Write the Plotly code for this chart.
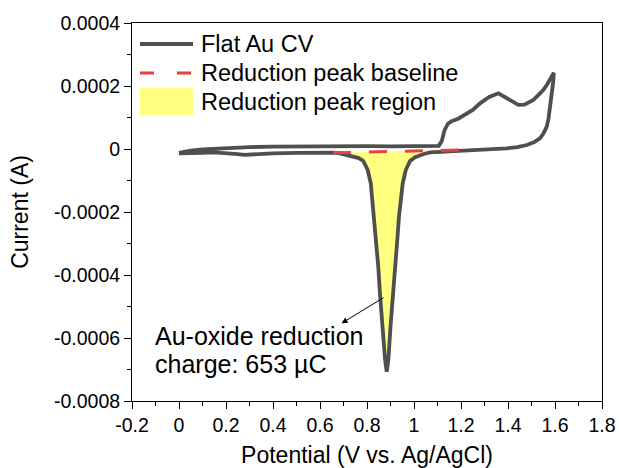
import numpy as np
import plotly.graph_objects as go

# ---------------- data ----------------
# Forward (anodic) sweep 0 -> 1.6 V, then reverse (cathodic) sweep 1.6 -> 0 V
forward_potential = [0.00, 0.05, 0.10, 0.20, 0.30, 0.40, 0.50, 0.60, 0.70, 0.80, 0.90,
                     1.00, 1.08, 1.105, 1.118, 1.13, 1.145, 1.16, 1.19, 1.21, 1.25,
                     1.281, 1.32, 1.359, 1.394, 1.42, 1.444, 1.47, 1.494, 1.508,
                     1.53, 1.55, 1.565, 1.58, 1.595]
forward_current = [-0.0000125, -0.000005, -0.000001, 0.000003, 0.000006, 0.0000075,
                   0.0000085, 0.0000095, 0.0000095, 0.000009, 0.0000085, 0.000008,
                   0.000008, 0.00001, 0.000025, 0.00006, 0.000081, 0.000088, 0.000097,
                   0.000106, 0.000124, 0.000145, 0.000165, 0.000177, 0.000162,
                   0.000148, 0.00014, 0.000141, 0.00015, 0.000156, 0.000172,
                   0.000187, 0.000203, 0.00022, 0.000242]

reverse_potential = [1.592, 1.586, 1.579, 1.572, 1.565, 1.55, 1.536, 1.51, 1.48, 1.44,
                     1.394, 1.323, 1.25, 1.18, 1.10, 1.07, 1.045, 1.026, 1.005, 0.983,
                     0.965, 0.952, 0.943, 0.936, 0.931, 0.925, 0.919, 0.909, 0.900,
                     0.891, 0.884, 0.877, 0.865, 0.855, 0.848, 0.842, 0.837, 0.830,
                     0.824, 0.816, 0.803, 0.784, 0.765, 0.742, 0.715, 0.685, 0.657,
                     0.60, 0.50, 0.40, 0.35, 0.316, 0.28, 0.25, 0.20, 0.15, 0.10,
                     0.05, 0.00]
reverse_current = [0.00021, 0.000177, 0.000124, 0.000095, 0.000071, 0.000048, 0.000034,
                   0.000021, 0.0000127, 0.000006, 0.000002, -0.000001, -0.000002,
                   -0.000004, -0.000008, -0.000011, -0.000015, -0.000019, -0.000026,
                   -0.000038, -0.0000667, -0.000109, -0.000162, -0.000215,
                   -0.000268, -0.00032, -0.000374, -0.000458, -0.000564, -0.00067,
                   -0.000707, -0.00067, -0.000564, -0.000458, -0.000374, -0.00032,
                   -0.000268, -0.000215, -0.000162, -0.000109, -0.0000667,
                   -0.000038, -0.000029, -0.0000244, -0.000017, -0.0000137,
                   -0.0000117, -0.0000115, -0.000012, -0.000014, -0.000017,
                   -0.000019, -0.0000185, -0.000016, -0.0000125, -0.000011,
                   -0.0000125, -0.000014, -0.0000135]

baseline_potential = [0.655, 1.21]
baseline_current = [-0.0000120, -0.000003]

x_tick_vals = [-0.2, 0, 0.2, 0.4, 0.6, 0.8, 1.0, 1.2, 1.4, 1.6, 1.8]
x_tick_text = ["-0.2", "0", "0.2", "0.4", "0.6", "0.8", "1", "1.2", "1.4", "1.6", "1.8"]
y_tick_vals = [0.0004, 0.0002, 0, -0.0002, -0.0004, -0.0006, -0.0008]
y_tick_text = ["0.0004", "0.0002", "0", "-0.0002", "-0.0004", "-0.0006", "-0.0008"]

legend_labels = ["Flat Au CV", "Reduction peak baseline", "Reduction peak region"]
note_lines = ["Au-oxide reduction", "charge: 653 µC"]

# ---------------- build figure ----------------
cv_potential = forward_potential + reverse_potential
cv_current = forward_current + reverse_current

# peak region: reverse-sweep points between baseline limits, closed along the baseline
rp = np.array(reverse_potential)
rc = np.array(reverse_current)
mask = (rp >= baseline_potential[0]) & (rp <= 1.105)
peak_p = list(rp[mask])
peak_c = list(rc[mask])
fill_p = peak_p + [peak_p[-1], peak_p[0], peak_p[0]]
fill_c = peak_c + [float(np.interp(peak_p[-1], baseline_potential, baseline_current)),
                   float(np.interp(peak_p[0], baseline_potential, baseline_current)),
                   peak_c[0]]

GRAY = "#4f4f4f"
RED = "#e8413f"
YELLOW = "#ffff80"
FONT = "Liberation Sans, Arial, sans-serif"

fig = go.Figure()
fig.add_trace(go.Scatter(x=fill_p, y=fill_c, fill="toself", fillcolor=YELLOW,
                         mode="none", name=legend_labels[2], showlegend=False,
                         hoverinfo="skip"))
fig.add_trace(go.Scatter(x=cv_potential, y=cv_current, mode="lines",
                         line=dict(color=GRAY, width=3.8), name=legend_labels[0],
                         showlegend=False))
fig.add_trace(go.Scatter(x=baseline_potential, y=baseline_current, mode="lines",
                         line=dict(color=RED, width=3, dash="18px,18px"),
                         name=legend_labels[1], showlegend=False))

# plot-area geometry (pixels) used for the hand-drawn legend keys
L, R, T, B = 132, 602, 23, 401
def px(xp):
    return (xp - L) / (R - L)
def py(yp):
    return (B - yp) / (B - T)

shapes = [
    dict(type="line", xref="paper", yref="paper", x0=px(140), x1=px(193),
         y0=py(44), y1=py(44), line=dict(color=GRAY, width=3.8)),
    dict(type="line", xref="paper", yref="paper", x0=px(140), x1=px(193),
         y0=py(73), y1=py(73), line=dict(color=RED, width=3, dash="14px,23px")),
    dict(type="rect", xref="paper", yref="paper", x0=px(140), x1=px(193),
         y0=py(88), y1=py(115), line=dict(width=0), fillcolor=YELLOW),
]
annotations = []
for lab, yy in zip(legend_labels, [44, 73, 102]):
    annotations.append(dict(text=lab, xref="paper", yref="paper", x=px(199), y=py(yy),
                            xanchor="left", yanchor="middle", showarrow=False,
                            font=dict(family=FONT, size=23.5, color="black")))
for line, yy in zip(note_lines, [-0.000594, -0.000684]):
    annotations.append(dict(text=line, x=-0.112, y=yy, xref="x", yref="y",
                            xanchor="left", yanchor="middle", showarrow=False,
                            font=dict(family=FONT, size=25, color="black")))
annotations.append(dict(text="", x=0.692, y=-0.000553, ax=0.877, ay=-0.000469,
                        xref="x", yref="y", axref="x", ayref="y", showarrow=True,
                        arrowhead=2, arrowsize=1.2, arrowwidth=1, arrowcolor="black",
                        standoff=0, startstandoff=0))

fig.update_layout(
    width=619, height=468,
    margin=dict(l=L, r=619 - R, t=T, b=468 - B, autoexpand=False),
    paper_bgcolor="white", plot_bgcolor="white",
    font=dict(family=FONT, color="black"),
    shapes=shapes, annotations=annotations, showlegend=False,
)
fig.update_xaxes(range=[-0.2, 1.8], tickvals=x_tick_vals, ticktext=x_tick_text,
                 ticks="outside", ticklen=7, tickwidth=1, tickcolor="black",
                 minor=dict(dtick=0.1, ticks="outside", ticklen=4, tickcolor="black",
                            showgrid=False),
                 showline=True, linecolor="black", linewidth=1, mirror=True,
                 showgrid=False, zeroline=False, tickfont=dict(size=19.5),
                 automargin=False,
                 title=dict(text="Potential (V vs. Ag/AgCl)", font=dict(size=23),
                            standoff=12))
fig.update_yaxes(range=[-0.0008, 0.0004], tickvals=y_tick_vals, ticktext=y_tick_text,
                 ticks="outside", ticklen=7, tickwidth=1, tickcolor="black",
                 minor=dict(dtick=0.0001, ticks="outside", ticklen=4, tickcolor="black",
                            showgrid=False),
                 showline=True, linecolor="black", linewidth=1, mirror=True,
                 showgrid=False, zeroline=False, tickfont=dict(size=19.5),
                 automargin=False,
                 title=dict(text="Current (A)", font=dict(size=23), standoff=18))

fig.write_html("out.html",
               config={"displayModeBar": False},
               post_script="document.body.style.margin='0';"
                           "document.body.style.overflow='hidden';")
